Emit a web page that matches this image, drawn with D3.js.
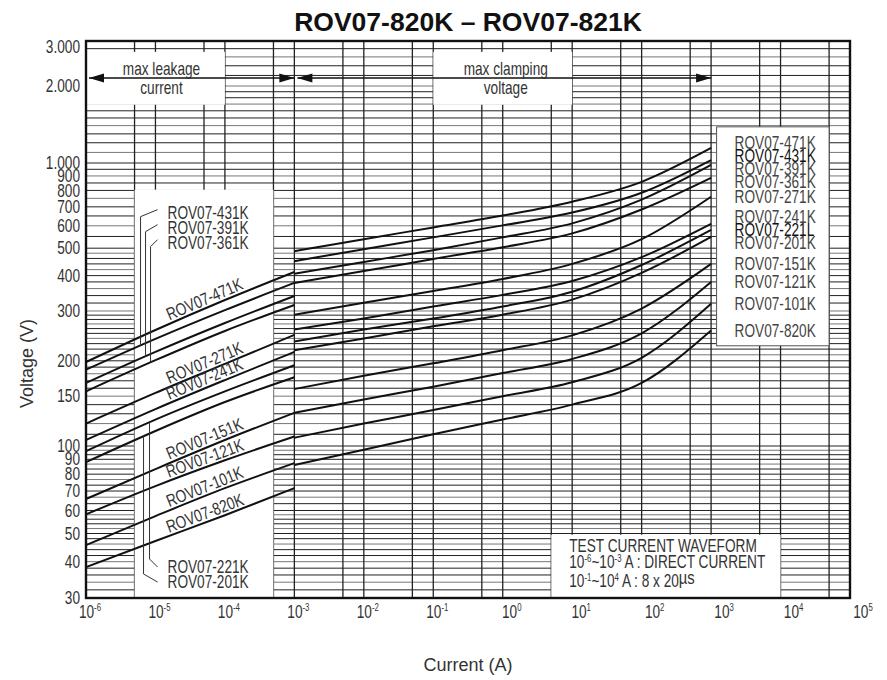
<!DOCTYPE html>
<html>
<head>
<meta charset="utf-8">
<script src="https://cdn.jsdelivr.net/npm/d3@7"></script>
<style>
  body { margin: 0; background: #fff; }
</style>
</head>
<body>
<svg id="chart" width="887" height="680"></svg>
<script>
// varistor types, top to bottom
const names = [
  "ROV07-471K", "ROV07-431K", "ROV07-391K", "ROV07-361K",
  "ROV07-271K", "ROV07-241K", "ROV07-221K", "ROV07-201K",
  "ROV07-151K", "ROV07-121K", "ROV07-101K", "ROV07-820K"
];
// legend text as printed (221L is in the original)
const legendLabels = [
  "ROV07-471K", "ROV07-431K", "ROV07-391K", "ROV07-361K",
  "ROV07-271K", "ROV07-241K", "ROV07-221L", "ROV07-201K",
  "ROV07-151K", "ROV07-121K", "ROV07-101K", "ROV07-820K"
];

// max leakage current part (A -> V)
const leakCurrents = [1e-6, 1e-5, 1e-4, 1e-3];
const leakVolts = [
  [198, 257, 328, 412],
  [186, 239, 302, 377],
  [167, 215, 272, 339],
  [156, 201, 255, 315],
  [120, 154, 195, 247],
  [105, 135, 171, 215],
  [96, 124, 156, 193],
  [88, 113, 143, 175],
  [65.7, 83.3, 105, 131],
  [58.2, 72.8, 89.3, 108],
  [45.6, 57.4, 71.6, 87.3],
  [38.3, 47.1, 57.8, 71.6]
];

// max clamping voltage part (A -> V)
const clampCurrents = [1e-3, 1e-2, 1e-1, 1e0, 1e1, 1e2, 1e3];
const clampVolts = [
  [488, 538, 592, 652, 730, 858, 1145],
  [450, 496, 546, 602, 668, 785, 1027],
  [406, 447, 492, 546, 612, 742, 984],
  [377, 415, 458, 504, 564, 685, 886],
  [291, 321, 353, 389, 440, 538, 760],
  [258, 282, 311, 342, 383, 465, 610],
  [234, 258, 282, 311, 351, 436, 580],
  [218, 240, 265, 291, 329, 409, 548],
  [159, 177, 196, 218, 246, 306, 440],
  [131, 146, 162, 181, 203, 250, 380],
  [107, 120, 134, 150, 168, 205, 318],
  [86, 97, 110, 124, 140, 167, 256]
];

const xTicks = [1e-6, 1e-5, 1e-4, 1e-3, 1e-2, 1e-1, 1e0, 1e1, 1e2, 1e3, 1e4, 1e5];
const xTickExps = ["-6", "-5", "-4", "-3", "-2", "-1", "0", "1", "2", "3", "4", "5"];
const yTicks = [30, 40, 50, 60, 70, 80, 90, 100, 150, 200, 300, 400, 500, 600, 700, 800, 900, 1000, 2000, 3000];
const yTickLabels = ["30", "40", "50", "60", "70", "80", "90", "100", "150", "200", "300", "400",
  "500", "600", "700", "800", "900", "1.000", "2.000", "3.000"];

// curves labelled along the line, and the ones with leader lines
const slantLabels = ["ROV07-471K", "ROV07-271K", "ROV07-241K", "ROV07-151K", "ROV07-121K", "ROV07-101K", "ROV07-820K"];
const leaderTop = ["ROV07-431K", "ROV07-391K", "ROV07-361K"];
const leaderBottom = ["ROV07-201K", "ROV07-221K"];

const font = "'Liberation Sans', Arial, sans-serif";
const squeeze = 0.78; // the print uses a condensed face
const fs = 17.5;

const svg = d3.select("#chart");

const x = d3.scaleLog().domain([1e-6, 1e5]).range([86, 850]);
// the printed grid is not quite one log scale, so it is split in pieces
const y = d3.scaleLog().domain([30, 100, 1000, 3000]).range([598, 446, 163, 41]);

const pLeft = x(1e-6), pRight = x(1e5), pTop = y(3000), pBottom = y(30);

// condensed text helper
function ntext(parent, px, py, anchor, rot) {
  return parent.append("text")
    .attr("transform", `translate(${px},${py})${rot ? ` rotate(${rot})` : ""} scale(${squeeze},1)`)
    .attr("text-anchor", anchor || "start")
    .attr("font-family", font)
    .attr("font-size", fs)
    .attr("fill", "#333");
}

// --- grid ---
const vGrid = [];
for (let e = -6; e < 5; e++) vGrid.push(Math.pow(10, e), 5 * Math.pow(10, e));

const hGrid = [];
for (let v = 32; v <= 60; v += 2) hGrid.push(v);
for (let k = 1; k <= 12; k++) hGrid.push(60 + k * 10 / 3);
for (let v = 110; v <= 300; v += 10) hGrid.push(v);
for (let v = 320; v <= 500; v += 20) hGrid.push(v);
for (let v = 550; v <= 1000; v += 50) hGrid.push(v);
for (let v = 1100; v <= 2000; v += 100) hGrid.push(v);
for (let v = 2200; v < 3000; v += 200) hGrid.push(v);

const grid = svg.append("g");
grid.selectAll(".hgrid")
  .data(hGrid)
  .enter()
  .append("line")
  .attr("class", "hgrid")
  .attr("x1", pLeft).attr("x2", pRight)
  .attr("y1", (d) => y(d)).attr("y2", (d) => y(d))
  .attr("stroke", (d, i) => (i % 3 === 1 ? "#777" : "#222"))
  .attr("stroke-width", 1);

grid.selectAll(".vgrid")
  .data(vGrid)
  .enter()
  .append("line")
  .attr("class", "vgrid")
  .attr("x1", (d) => x(d)).attr("x2", (d) => x(d))
  .attr("y1", pTop).attr("y2", pBottom)
  .attr("stroke", "#222")
  .attr("stroke-width", 1.3);

// --- white boxes ---
function whiteBox(i0, i1, v0, v1, stroke) {
  svg.append("rect")
    .attr("x", x(i0))
    .attr("y", y(v1))
    .attr("width", x(i1) - x(i0))
    .attr("height", y(v0) - y(v1))
    .attr("fill", "#fff")
    .attr("stroke", stroke || "none")
    .attr("stroke-width", 1);
}
whiteBox(1e-6, 1e-4, 1690, 2720);      // max leakage current
whiteBox(1e-1, 1e1, 1690, 2720);       // max clamping voltage
whiteBox(5e-6, 5e-4, 30, 805);         // curve labels
whiteBox(1.2e3, 5e4, 226, 1385, "#555"); // legend
whiteBox(5, 1e4, 30, 49.5);            // test waveform note

// --- arrows ---
function arrow(i0, i1, v) {
  const x0 = x(i0) + 3, x1 = x(i1), yy = y(v);
  const g = svg.append("g");
  g.append("line").attr("x1", x0).attr("x2", x1).attr("y1", yy).attr("y2", yy)
    .attr("stroke", "#111").attr("stroke-width", 1.3);
  g.append("path")
    .attr("d", `M${x0},${yy} l15,-4.5 l0,9 Z M${x1},${yy} l-15,-4.5 l0,9 Z`)
    .attr("fill", "#111");
}
arrow(1e-6, 1e-3, 2150);
arrow(1e-3, 1e3, 2150);

function boxText(cx, v, lines) {
  lines.forEach((t, i) => {
    ntext(svg, cx, y(v) + (i === 0 ? -9 : 10), "middle")
      .attr("dy", "0.35em")
      .text(t);
  });
}
boxText((x(1e-6) + x(1e-4)) / 2 + 6, 2150, ["max leakage", "current"]);
boxText((x(1e-1) + x(1e1)) / 2 + 3, 2150, ["max clamping", "voltage"]);

// --- curves ---
const line = d3.line()
  .x((d) => x(d[0]))
  .y((d) => y(d[1]))
  .curve(d3.curveMonotoneX);

const curves = svg.append("g");
names.forEach((n, i) => {
  const leak = leakCurrents.map((c, j) => [c, leakVolts[i][j]]);
  const clamp = clampCurrents.map((c, j) => [c, clampVolts[i][j]]);
  [leak, clamp].forEach((pts) => {
    curves.append("path")
      .attr("d", line(pts))
      .attr("fill", "none")
      .attr("stroke", "#111")
      .attr("stroke-width", 2);
  });
});

// value on a leakage curve (log-log interpolation)
function leakAt(i, c) {
  const lc = leakCurrents.map(Math.log10);
  const lv = leakVolts[i].map(Math.log10);
  const t = Math.log10(c);
  let k = 0;
  while (k < lc.length - 2 && t > lc[k + 1]) k++;
  const f = (t - lc[k]) / (lc[k + 1] - lc[k]);
  return Math.pow(10, lv[k] + f * (lv[k + 1] - lv[k]));
}

// --- frame ---
svg.append("rect")
  .attr("x", pLeft).attr("y", pTop)
  .attr("width", pRight - pLeft).attr("height", pBottom - pTop)
  .attr("fill", "none")
  .attr("stroke", "#111")
  .attr("stroke-width", 2.4);

// --- slanted curve labels ---
const labelCurrent = 5.7e-5;
slantLabels.forEach((n) => {
  const i = names.indexOf(n);
  const px = x(labelCurrent);
  const py = y(leakAt(i, labelCurrent));
  const dx = x(labelCurrent * 2) - x(labelCurrent / 2);
  const dy = y(leakAt(i, labelCurrent * 2)) - y(leakAt(i, labelCurrent / 2));
  const ang = Math.atan2(dy, dx) * 180 / Math.PI;
  ntext(svg, px, py, "middle", ang)
    .attr("y", -3)
    .text(n);
});

// --- leader line labels ---
const labelX = x(5e-6) + 33;
leaderTop.forEach((n, k) => {
  const i = names.indexOf(n);
  const ty = y(805) + 23 + k * 15;
  const ex = x(5e-6) + 6 + k * 5;
  const ey = y(leakAt(i, x.invert(ex)));
  svg.append("path")
    .attr("d", `M${labelX - 10},${ty - 3} L${ex},${ty + 4} L${ex},${ey}`)
    .attr("fill", "none").attr("stroke", "#333").attr("stroke-width", 1);
  ntext(svg, labelX, ty).attr("dy", "0.35em").text(n);
});
leaderBottom.forEach((n, k) => {
  const i = names.indexOf(n);
  const ty = pBottom - 16 - k * 15;
  const ex = x(5e-6) + 9 + k * 6;
  const ey = y(leakAt(i, x.invert(ex)));
  svg.append("path")
    .attr("d", `M${labelX - 10},${ty} L${ex},${ty - 8} L${ex},${ey}`)
    .attr("fill", "none").attr("stroke", "#333").attr("stroke-width", 1);
  ntext(svg, labelX, ty).attr("dy", "0.35em").text(n);
});

// --- legend, labels spread around the curve ends ---
function spread(targets, gap) {
  let groups = targets.map((t) => ({ n: 1, sum: t }));
  let merged = true;
  while (merged) {
    merged = false;
    for (let k = 0; k < groups.length - 1; k++) {
      const a = groups[k], b = groups[k + 1];
      const aEnd = a.sum / a.n + (a.n - 1) * gap / 2;
      const bStart = b.sum / b.n - (b.n - 1) * gap / 2;
      if (bStart - aEnd < gap) {
        groups.splice(k, 2, { n: a.n + b.n, sum: a.sum + b.sum });
        merged = true;
        break;
      }
    }
  }
  const out = [];
  groups.forEach((g) => {
    const start = g.sum / g.n - (g.n - 1) * gap / 2;
    for (let j = 0; j < g.n; j++) out.push(start + j * gap);
  });
  return out;
}
const endYs = clampVolts.map((v) => y(v[v.length - 1]));
const legendYs = spread(endYs, 13);
legendLabels.forEach((d, i) => {
  ntext(svg, x(1.2e3) + 18, legendYs[i])
    .attr("dy", "0.35em")
    .attr("fill", d === "ROV07-221L" || d === "ROV07-431K" ? "#111" : "#444")
    .text(d);
});

// --- test waveform note ---
const noteX = x(5) + 18;
const noteTop = y(49.5);
function sup(t, s) {
  t.append("tspan").attr("font-size", 10).attr("dy", -6).text(s);
}
ntext(svg, noteX, noteTop + 17).text("TEST CURRENT WAVEFORM");
const n2 = ntext(svg, noteX, noteTop + 33);
n2.append("tspan").text("10");
sup(n2, "-6");
n2.append("tspan").attr("dy", 6).text("~10");
sup(n2, "-3");
n2.append("tspan").attr("dy", 6).text(" A : DIRECT CURRENT");
const n3 = ntext(svg, noteX, noteTop + 52);
n3.append("tspan").text("10");
sup(n3, "-1");
n3.append("tspan").attr("dy", 6).text("~10");
sup(n3, "4");
n3.append("tspan").attr("dy", 6).text(" A : 8 x 20");
n3.append("tspan").attr("dy", -3).attr("font-size", 19).text("µs");

// --- axes labels ---
yTicks.forEach((d, i) => {
  ntext(svg, pLeft - 6, Math.max(y(d), pTop + 6), "end")
    .attr("dy", "0.35em")
    .text(yTickLabels[i]);
});

xTicks.forEach((d, i) => {
  const t = ntext(svg, x(d) + (i < 6 ? 4 : i < 8 ? 9 : 13), pBottom + 20, "middle");
  t.append("tspan").text("10");
  t.append("tspan").attr("font-size", 10).attr("dy", -7).text(xTickExps[i]);
});

svg.append("text")
  .attr("x", (pLeft + pRight) / 2)
  .attr("y", 671)
  .attr("text-anchor", "middle")
  .attr("font-family", font)
  .attr("font-size", 18)
  .attr("fill", "#333")
  .text("Current (A)");

svg.append("text")
  .attr("transform", `translate(33,${(pTop + pBottom) / 2 + 44}) rotate(-90)`)
  .attr("text-anchor", "middle")
  .attr("font-family", font)
  .attr("font-size", 18)
  .attr("fill", "#333")
  .text("Voltage (V)");

svg.append("text")
  .attr("x", (pLeft + pRight) / 2)
  .attr("y", 31)
  .attr("text-anchor", "middle")
  .attr("font-family", font)
  .attr("font-weight", "bold")
  .attr("font-size", 26.5)
  .attr("fill", "#111")
  .text("ROV07-820K – ROV07-821K");
</script>
</body>
</html>
